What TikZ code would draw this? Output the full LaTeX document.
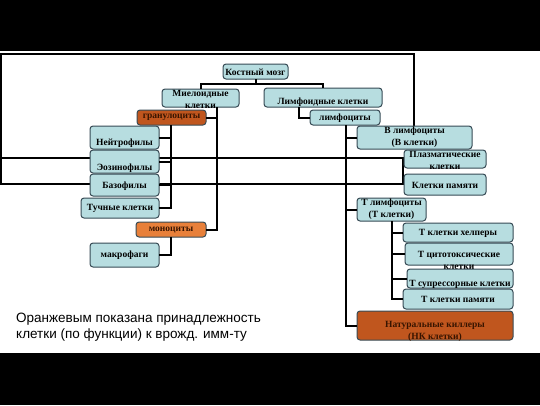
\documentclass[tikz,border=0pt]{standalone}
\usepackage{fontspec}
\setmainfont{Liberation Serif}
\newfontfamily\capfont{Liberation Sans}
\definecolor{lb}{RGB}{183,221,224}
\definecolor{boxline}{RGB}{55,75,85}
\definecolor{orD}{RGB}{192,86,30}
\definecolor{orB}{RGB}{232,128,58}
\definecolor{ortext}{RGB}{55,20,0}
\begin{document}
\begin{tikzpicture}[x=1pt,y=-1pt,
  bx/.style={draw=boxline,line width=1pt,rounded corners=3pt,fill=lb,inner sep=0pt,outer sep=0pt},
  obx/.style={bx,fill=orD},
  obxb/.style={bx,fill=orB},
  txt/.style={font=\fontsize{9.5}{12}\selectfont\bfseries,align=center,inner sep=0pt,text=black},
  otxt/.style={txt,text=ortext},
  conn/.style={line width=2pt,black},
  frame/.style={line width=2pt,black}]
\useasboundingbox (0,0) rectangle (540,405);
\fill[black] (0,0) rectangle (540,51);
\fill[black] (0,353) rectangle (540,405);
% background frame
\draw[frame] (414,126) -- (414,54) -- (1,54) -- (1,184) -- (403,184) -- (403,158) -- (1,158);
\newcommand\mkbox[6]{\node[#6,minimum width={#4-#2},minimum height={#5-#3}] (#1) at ({(#2+#4)/2},{(#3+#5)/2}) {};}
% top level
\mkbox{km}{223}{64}{288}{79}{bx}
\mkbox{mye}{162}{89}{239}{107}{bx}
\mkbox{lym}{264}{88}{382}{107}{bx}
\begin{scope}
\clip[rounded corners=3pt] (162,89) rectangle (239,107);
\node[txt] (myet) at (200.5,99.5) {Миелоидные\\клетки};
\end{scope}
\node[txt] (kmt) at (255.5,72) {Костный мозг};
\node[txt] (lymt) at (323,102) {Лимфоидные клетки};
% myeloid side
\mkbox{gran}{137}{110}{206}{125}{obx}
\mkbox{lymc}{310}{110}{380}{125}{bx}
\mkbox{mono}{136}{222}{206}{237}{obxb}
\mkbox{neu}{90}{126}{159}{149}{bx}
\mkbox{eos}{90}{150}{159}{173}{bx}
\mkbox{baso}{90}{174}{159}{196}{bx}
\mkbox{mast}{81}{198}{159}{218}{bx}
\mkbox{macro}{90}{243}{159}{267}{bx}
\node[otxt] (grant) at (171.5,117.5) {гранулоциты};
\node[txt] (lymct) at (345,118) {лимфоциты};
\node[otxt] (monot) at (171,230) {моноциты};
\node[txt] (neut) at (124.5,143) {Нейтрофилы};
\node[txt] (eost) at (124.5,168) {Эозинофилы};
\node[txt] (basot) at (124.5,186) {Базофилы};
\node[txt] (mastt) at (120,208) {Тучные клетки};
\node[txt] (macrot) at (124.5,255) {макрофаги};
% lymphoid side
\mkbox{bcell}{357}{126}{472}{149}{bx}
\mkbox{tcell}{357}{198}{426}{221}{bx}
\node[txt] (bcellt) at (414.5,137) {В лимфоциты\\(В клетки)};
\mkbox{plasma}{404}{150}{486}{168}{bx}
\begin{scope}
\clip[rounded corners=3pt] (404,150) rectangle (486,168);
\node[txt] (plasmat) at (445,160) {Плазматические\\клетки};
\end{scope}
\mkbox{bmem}{404}{174}{486}{195}{bx}
\node[txt] (bmemt) at (445,185) {Клетки памяти};
\node[txt] (tcellt) at (391.5,209.5) {Т лимфоциты\\(Т клетки)};
\mkbox{th}{403}{223}{513}{242}{bx}
\node[txt] (tht) at (458,233) {Т клетки хелперы};
\mkbox{tc}{405}{243}{513}{265}{bx}
\node[txt] (tct) at (459,260.5) {Т цитотоксические\\клетки};
\mkbox{ts}{407}{269}{513}{288}{bx}
\node[txt] (tst) at (460,284) {Т супрессорные клетки};
\mkbox{tmem}{403}{289}{513}{309}{bx}
\node[txt] (tmemt) at (458,299) {Т клетки памяти};
\mkbox{nk}{357}{311}{513}{340}{obx}
\node[otxt] (nkt) at (435,331.5) {Натуральные киллеры\\(НК клетки)};
% connector anchors
\coordinate (myeX) at (217,107);
\coordinate (gX) at (171,125);
\coordinate (mX) at (171,237);
\coordinate (lX) at (299,107);
\coordinate (lcX) at (346,125);
% connectors
\draw[conn] (km.south) -- ++(0,5) -| (mye.north);
\draw[conn] (km.south) ++(0,5) -| (lym.north);
\draw[conn] (myeX) |- (mono.east);
\draw[conn] (gran.east) -- (gran.east -| myeX);
\draw[conn] (gX) |- (mast.east);
\draw[conn] (neu.east) -- (neu.east -| gX);
\draw[conn] (eos.east) -- (eos.east -| gX);
\draw[conn] (baso.east) -- (baso.east -| gX);
\draw[conn] (mX) |- (macro.east);
\draw[conn] (lX) |- (lymc.west);
\draw[conn] (lcX) |- (nk.west);
\draw[conn] (bcell.west) -- (bcell.west -| lcX);
\draw[conn] (tcell.west) -- (tcell.west -| lcX);
\draw[conn] (tcell.south) |- (tmem.west);
\draw[conn] (th.west) -- (th.west -| tcell.south);
\draw[conn] (tc.west) -- (tc.west -| tcell.south);
\draw[conn] (ts.west) -- (ts.west -| tcell.south);
\node[font=\capfont\fontsize{13.5}{16}\selectfont,align=left,anchor=north west,inner sep=0pt] (cap) at (16,313) {Оранжевым показана принадлежность\\клетки (по функции) к врожд. имм-ту};
\end{tikzpicture}
\end{document}
